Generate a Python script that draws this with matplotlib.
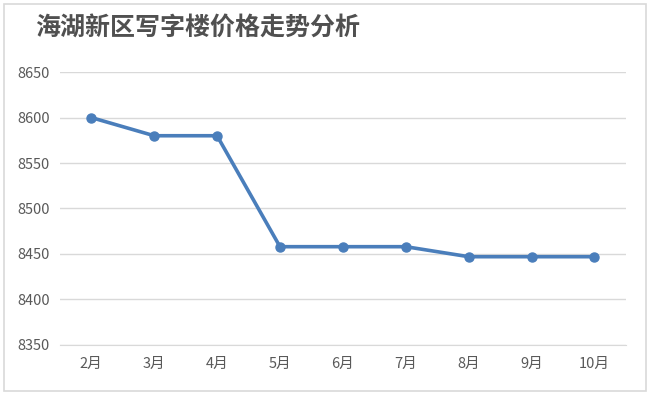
import matplotlib
matplotlib.use('Agg')
import matplotlib.pyplot as plt
from matplotlib.patches import Rectangle

plt.rcParams['font.family'] = ['Noto Sans CJK SC', 'DejaVu Sans']

months = ['2月', '3月', '4月', '5月', '6月', '7月', '8月', '9月', '10月']
prices = [8600, 8580, 8580, 8458, 8458, 8458, 8447, 8447, 8447]
yticks = [8350, 8400, 8450, 8500, 8550, 8600, 8650]

fig = plt.figure(figsize=(6.5, 3.96), dpi=100)
fig.patches.append(Rectangle((0.006, 0.012), 0.988, 0.978, transform=fig.transFigure,
                             fill=False, edgecolor='#d9d9d9', linewidth=1.2))

ax = fig.add_axes([0.092, 0.129, 0.871, 0.689])
x = range(len(months))
ax.plot(x, prices, color='#4a7ebb', linewidth=2.6, marker='o', markersize=6.5, zorder=3)

ax.set_xlim(-0.5, len(months) - 0.5)
ax.set_ylim(8350, 8650)
ax.set_yticks(yticks)
ax.set_xticks(list(x))
ax.set_xticklabels(months)
ax.grid(axis='y', color='#d9d9d9', linewidth=1)
for s in ax.spines.values():
    s.set_visible(False)
ax.spines['bottom'].set_visible(True)
ax.spines['bottom'].set_color('#d9d9d9')
ax.tick_params(length=0, colors='#595959', labelsize=10.5)
ax.tick_params(axis='x', pad=9)
ax.tick_params(axis='y', pad=7)

fig.text(0.054, 0.93, '海湖新区写字楼价格走势分析', fontsize=18, color='#505050',
         fontweight='bold', va='center', ha='left')

fig.savefig('out.png', dpi=100)
